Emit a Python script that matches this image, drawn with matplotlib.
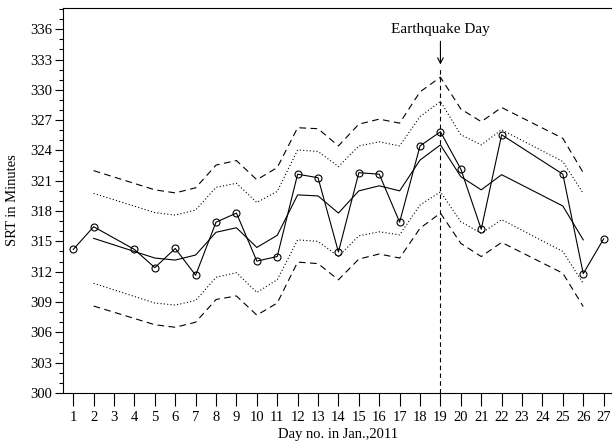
import matplotlib
matplotlib.use("Agg")
import matplotlib.pyplot as plt
from matplotlib.ticker import MultipleLocator

plt.rcParams['font.family'] = ['Liberation Serif', 'DejaVu Serif']

obs_days = [1, 2, 4, 5, 6, 7, 8, 9, 10, 11, 12, 13, 14, 15, 16, 17, 18, 19, 20, 21, 22, 25, 26, 27]
obs_vals = [314.2, 316.45, 314.2, 312.4, 314.3, 311.65, 316.9, 317.8, 313.05, 313.5, 321.65, 321.3,
            313.95, 321.8, 321.65, 316.9, 324.45, 325.85, 322.15, 316.2, 325.55, 321.65, 311.8, 315.25]

band_days = [2, 5, 6, 7, 8, 9, 10, 11, 12, 13, 14, 15, 16, 17, 18, 19, 20, 21, 22, 25, 26]
mean_vals = [315.3, 313.35, 313.15, 313.65, 315.9, 316.35, 314.4, 315.6, 319.6, 319.5, 317.8,
             320.0, 320.5, 320.0, 323.05, 324.55, 321.4, 320.1, 321.6, 318.5, 315.15]
upper1 = [319.75, 317.85, 317.6, 318.1, 320.35, 320.75, 318.85, 319.95, 324.05, 323.9, 322.4,
          324.45, 324.85, 324.45, 327.35, 328.85, 325.55, 324.55, 326.05, 322.9, 319.75]
lower1 = [310.85, 308.9, 308.7, 309.15, 311.45, 311.9, 309.95, 311.2, 315.15, 315.0, 313.5,
          315.55, 315.95, 315.65, 318.6, 319.9, 316.95, 315.8, 317.15, 314.0, 310.85]
upper2 = [322.0, 320.1, 319.8, 320.3, 322.55, 323.0, 321.1, 322.3, 326.25, 326.15, 324.45,
          326.6, 327.1, 326.7, 329.8, 331.25, 328.1, 326.85, 328.25, 325.2, 321.8]
lower2 = [308.6, 306.75, 306.5, 307.0, 309.25, 309.6, 307.7, 308.9, 312.95, 312.8, 311.2,
          313.25, 313.75, 313.35, 316.3, 317.8, 314.8, 313.5, 314.9, 311.85, 308.55]

quake_day = 19
x_ticks = list(range(1, 28))

fig = plt.figure(figsize=(6.12, 4.43), dpi=100)
ax = fig.add_axes([0.103, 0.113, 0.9, 0.869])

lw = 0.8
ax.plot(obs_days, obs_vals, color='black', lw=lw, marker='o', markersize=5,
        markerfacecolor='none', markeredgewidth=0.8)
ax.plot(band_days, mean_vals, color='black', lw=lw)
ax.plot(band_days, upper1, color='black', lw=lw, linestyle=(0, (1, 2)))
ax.plot(band_days, lower1, color='black', lw=lw, linestyle=(0, (1, 2)))
ax.plot(band_days, upper2, color='black', lw=lw, linestyle=(0, (6, 4)))
ax.plot(band_days, lower2, color='black', lw=lw, linestyle=(0, (6, 4)))

ax.plot([quake_day, quake_day], [300, 332.2], color='black', lw=lw, linestyle=(0, (4, 3)))
ax.annotate('', xy=(quake_day, 332.5), xytext=(quake_day, 334.8),
            arrowprops=dict(arrowstyle='->', color='black', lw=0.8, shrinkA=0, shrinkB=0))
ax.text(quake_day, 336.0, 'Earthquake Day', ha='center', va='center', fontsize=11)

ax.set_xlim(0.5, 27.5)
ax.set_ylim(300, 338.1)
ax.set_xticks(x_ticks)
ax.set_xticklabels([str(d) for d in x_ticks], fontsize=10.5)
ax.yaxis.set_major_locator(MultipleLocator(3))
ax.yaxis.set_minor_locator(MultipleLocator(1))
ax.tick_params(axis='y', which='major', direction='out', length=6, width=0.8, labelsize=10.5, pad=2)
ax.tick_params(axis='y', which='minor', direction='out', length=3, width=0.8)
ax.tick_params(axis='x', which='major', direction='out', length=9, width=0.8, labelsize=10.5, pad=4)
for s in ax.spines.values():
    s.set_linewidth(0.8)

ax.set_xlabel('Day no. in Jan.,2011', fontsize=10.5, labelpad=3)
ax.set_ylabel('SRT in Minutes', fontsize=10.5, labelpad=8)

fig.savefig('out.png', dpi=100)
